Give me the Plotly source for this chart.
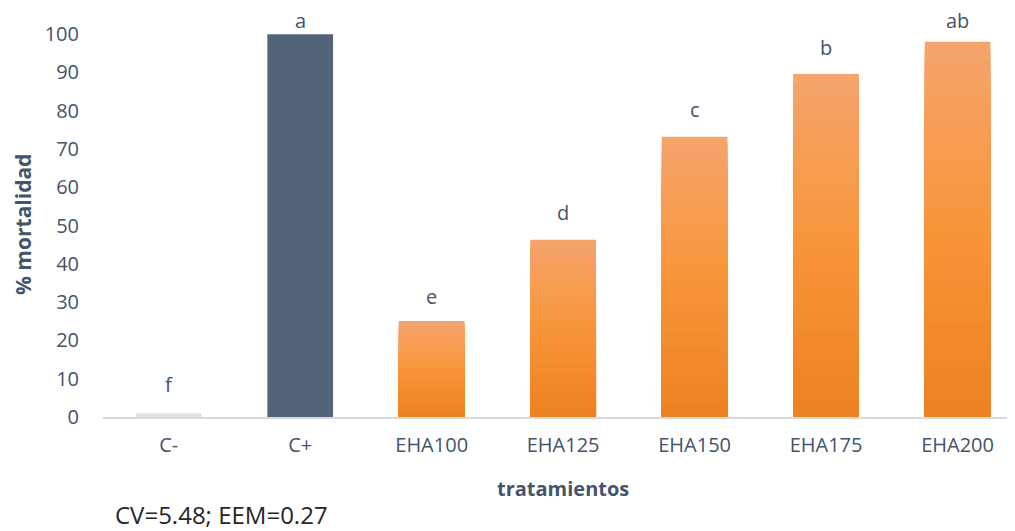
import plotly.graph_objects as go

categories = ["C-", "C+", "EHA100", "EHA125", "EHA150", "EHA175", "EHA200"]
mortality = [1.0, 100.0, 25.1, 46.3, 73.2, 89.6, 98.0]
letters = ["f", "a", "e", "d", "c", "b", "ab"]
letter_y = [8.4, 103.6, 31.6, 53.3, 80.2, 96.6, 103.6]
y_ticks = [0, 10, 20, 30, 40, 50, 60, 70, 80, 90, 100]
footer = "CV=5.48; EEM=0.27"

TXT = "#44546A"
FONT = "Open Sans"

# page has an 8px body margin; size the figure so it fills the 1015x531 window
OFF = 8
W, H = 1015 - OFF, 531 - OFF
# plot area in page pixels: left 103, right 1015, top 15 (y=105), bottom 417 (y=0)
L, R, T, B = 103 - OFF, 0, 15 - OFF, 531 - 417

fig = go.Figure()

# control bars
fig.add_trace(go.Bar(x=categories[:2], y=mortality[:2], width=0.5,
                     marker=dict(color=["#DEE1E7", "#536479"], line=dict(width=0)),
                     hoverinfo="skip", showlegend=False))

# orange gradient bars (top light, bottom dark) via overlaid slices
stops = [(0.0, (237, 129, 33)), (0.5, (248, 149, 57)), (1.0, (245, 164, 108))]

def col(f):
    for (f0, c0), (f1, c1) in zip(stops[:-1], stops[1:]):
        if f <= f1:
            t = (f - f0) / (f1 - f0)
            return "rgb(%d,%d,%d)" % tuple(round(a + (b - a) * t) for a, b in zip(c0, c1))
    return "rgb(%d,%d,%d)" % stops[-1][1]

N = 40
ex = categories[2:]
ev = mortality[2:]
for k in range(N):
    f = 1 - k / N
    fig.add_trace(go.Bar(x=ex, y=[v * f for v in ev], width=0.5,
                         marker=dict(color=col(f - 0.5 / N), line=dict(width=0)),
                         hoverinfo="skip", showlegend=False))

annotations = []
# significance letters
for c, lt, ly in zip(categories, letters, letter_y):
    annotations.append(dict(x=c, y=ly, xref="x", yref="y", text=lt, showarrow=False,
                            xanchor="center", yanchor="middle",
                            font=dict(family=FONT, size=20, color=TXT)))

def px(x, y):
    # page pixel -> paper coords
    x -= OFF
    y -= OFF
    return (x - L) / (W - L - R), (H - B - y) / (H - T - B)

x0, y0 = px(23, 225)
annotations.append(dict(text="<b>% mortalidad</b>", x=x0, y=y0, xref="paper", yref="paper",
                        showarrow=False, textangle=-90, xanchor="center", yanchor="middle",
                        font=dict(family=FONT, size=21, color=TXT)))
x0, y0 = px(563, 488)
annotations.append(dict(text="<b>tratamientos</b>", x=x0, y=y0, xref="paper", yref="paper",
                        showarrow=False, xanchor="center", yanchor="middle",
                        font=dict(family=FONT, size=20, color=TXT)))
x0, y0 = px(113, 514)
annotations.append(dict(text=footer, x=x0, y=y0, xref="paper", yref="paper",
                        showarrow=False, xanchor="left", yanchor="middle",
                        font=dict(family=FONT, size=24, color="#262626")))

fig.update_layout(
    width=W, height=H,
    margin=dict(l=L, r=R, t=T, b=B, autoexpand=False),
    paper_bgcolor="white", plot_bgcolor="white",
    barmode="overlay",
    font=dict(family=FONT, color=TXT),
    xaxis=dict(range=[-0.5, 6.437], showgrid=False, zeroline=False, automargin=False,
               showline=True, linecolor="#D9D9D9", linewidth=1.5,
               ticks="", tickfont=dict(family=FONT, size=20, color=TXT),
               ticklabelstandoff=9),
    yaxis=dict(range=[0, 105], tickvals=y_ticks, showgrid=False, zeroline=False,
               automargin=False, showline=False, ticks="",
               tickfont=dict(family=FONT, size=20, color=TXT),
               ticklabelstandoff=23),
    annotations=annotations,
)

fig.write_html("out.html")
